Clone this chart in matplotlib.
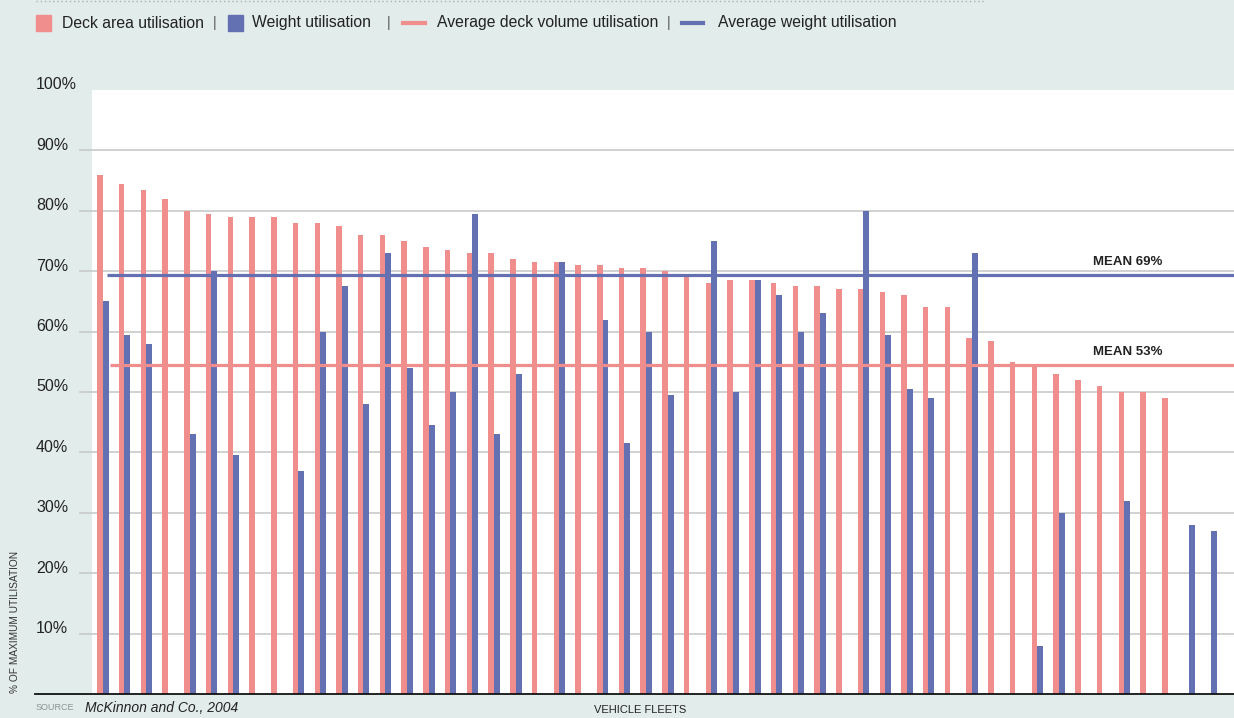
import numpy as np
import matplotlib
matplotlib.use("Agg")
import matplotlib.pyplot as plt
from matplotlib.patches import Rectangle
from matplotlib.lines import Line2D
from matplotlib.transforms import blended_transform_factory


# Deck area vs weight utilisation per vehicle fleet (None = no bar)
deck_area = [86, 84.5, 83.5, 82, 80, 79.5, 79, 79, 79, 78, 78, 77.5, 76, 76,
             75, 74, 73.5, 73, 73, 72, 71.5, 71.5, 71, 71, 70.5, 70.5, 70,
             69.5, 68, 68.5, 68.5, 68, 67.5, 67.5, 67, 67, 66.5, 66, 64, 64,
             59, 58.5, 55, 54.5, 53, 52, 51, 50, 50, 49, None, None]
weight = [65, 59.5, 58, None, 43, 70, 39.5, None, None, 37, 60, 67.5, 48, 73,
          54, 44.5, 50, 79.5, 43, 53, None, 71.5, None, 62, 41.5, 60, 49.5,
          None, 75, 50, 68.5, 66, 60, 63, None, 80, 59.5, 50.5, 49, None, 73,
          None, None, 8, 30, None, None, 32, None, None, 28, 27]
mean_weight = 69.3
mean_deck = 54.4
mean_labels = ["MEAN 69%", "MEAN 53%"]
y_ticks = [10, 20, 30, 40, 50, 60, 70, 80, 90, 100]
legend_labels = ["Deck area utilisation", "Weight utilisation",
                 "Average deck volume utilisation", "Average weight utilisation"]

PINK = "#f08d8d"
BLUE = "#6371b3"
BG = "#e2ecea"
GRID = "#c8caca"
TEXT = "#222222"
SANS = ["Liberation Sans", "DejaVu Sans"]

W, H = 1234, 718


def fx(px):
    return px / W


def fy(py):
    return 1 - py / H


fig = plt.figure(figsize=(W / 100, H / 100), dpi=100, facecolor=BG)
ax = fig.add_axes([fx(92), fy(694), 1 - fx(92), (694 - 90) / H])
ax.set_facecolor("white")

x = np.arange(len(deck_area))
deck = np.array([np.nan if v is None else v for v in deck_area], float)
wt = np.array([np.nan if v is None else v for v in weight], float)

m = ~np.isnan(deck)
ax.bar(x[m] - 0.253, deck[m], width=0.253, align="edge", color=PINK, zorder=2)
m = ~np.isnan(wt)
ax.bar(x[m], wt[m], width=0.276, align="edge", color=BLUE, zorder=2)

x_right = 52.06
ax.set_xlim(-0.492, x_right)
ax.set_ylim(0, 100)
for s in ax.spines.values():
    s.set_visible(False)
ax.set_xticks([])
ax.set_yticks([])

ax_w = W - 92
for t in y_ticks[:-1]:
    ax.axhline(t, xmin=-(92 - 80) / ax_w, xmax=1, color=GRID, lw=1.2,
               zorder=1, clip_on=False)
ax.axhline(0, xmin=-(92 - 35) / ax_w, xmax=1, color="#111111", lw=1.3,
           zorder=5, clip_on=False)

ax.hlines(mean_weight, 0.21, x_right, color=BLUE, lw=2.3, zorder=4)
ax.hlines(mean_deck, 0.34, x_right, color=PINK, lw=2.3, zorder=4)
ax.text(47.18, 71.5, mean_labels[0], ha="center", va="center", fontsize=9.5,
        fontweight="bold", family=SANS, color=TEXT, zorder=6)
ax.text(47.18, 56.6, mean_labels[1], ha="center", va="center", fontsize=9.5,
        fontweight="bold", family=SANS, color=TEXT, zorder=6)

# y tick labels sit slightly above their gridlines
trans = blended_transform_factory(ax.transAxes, ax.transData)
for t in y_ticks:
    ax.text((36 - 92) / ax_w, t + 0.85, f"{t}%", transform=trans, ha="left",
            va="center", fontsize=11.5, family=SANS, color=TEXT, clip_on=False)

fig.text(fx(15), fy(693), "% OF MAXIMUM UTILISATION", rotation=90,
         ha="center", va="bottom", fontsize=7.3, family=SANS, color="#333333")
fig.text(fx(640), fy(705), "VEHICLE FLEETS", ha="center", va="top",
         fontsize=8, family=SANS, color=TEXT)
fig.text(fx(36), fy(703), "SOURCE", ha="left", va="top", fontsize=6.5,
         family=SANS, color="#8a9593")
fig.text(fx(85), fy(701), "McKinnon and Co., 2004", ha="left", va="top",
         fontsize=10, style="italic", family=SANS, color=TEXT)

# dotted rule at the very top
fig.add_artist(Line2D([fx(36), fx(985)], [fy(1), fy(1)], color="#a9b3b1",
                      lw=1, ls=(0, (1, 2)), transform=fig.transFigure))

# hand-built legend row
ly = 23
fig.add_artist(Rectangle((fx(36), fy(31)), 15 / W, 16 / H, color=PINK,
                         transform=fig.transFigure))
fig.add_artist(Rectangle((fx(228), fy(31)), 15 / W, 16 / H, color=BLUE,
                         transform=fig.transFigure))
fig.add_artist(Line2D([fx(403), fx(425)], [fy(ly), fy(ly)], color=PINK, lw=3,
                      transform=fig.transFigure))
fig.add_artist(Line2D([fx(682), fx(703)], [fy(ly), fy(ly)], color=BLUE, lw=3,
                      transform=fig.transFigure))
for px, lab in zip([62, 252, 437, 718], legend_labels):
    fig.text(fx(px), fy(ly), lab, ha="left", va="center", fontsize=11.3,
             family=SANS, color=TEXT)
for px in [215, 389, 669]:
    fig.text(fx(px), fy(ly), "|", ha="center", va="center", fontsize=10,
             family=SANS, color="#555555")

fig.savefig("out.png", dpi=100, facecolor=BG)
plt.close(fig)
